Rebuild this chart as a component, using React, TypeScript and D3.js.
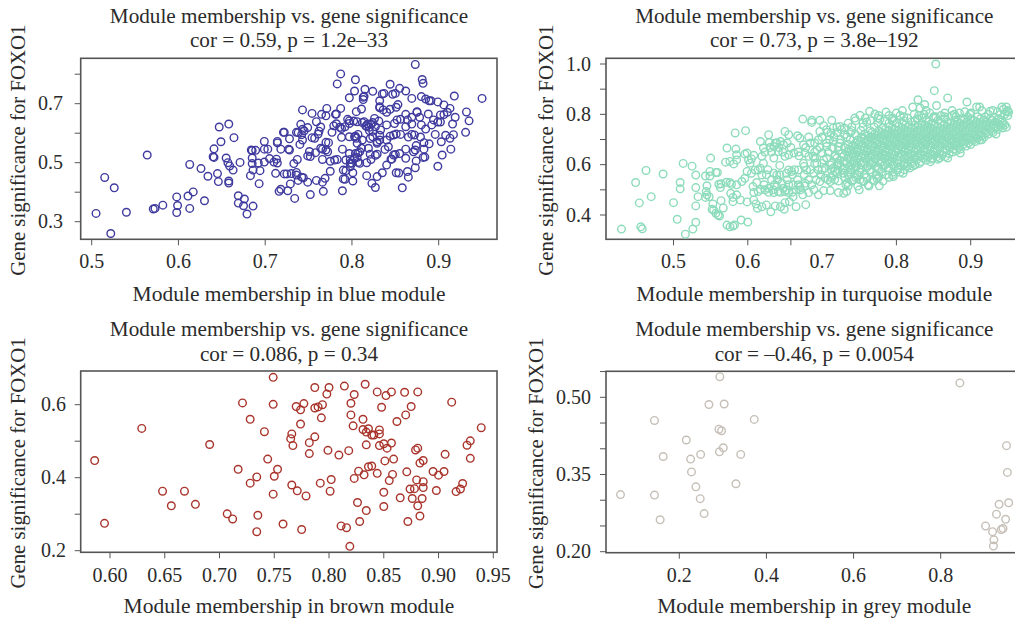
import React from "react";
import * as d3 from "d3";

type Pt = [number, number];

const bluePoints: Pt[] = [[.505,.328],[.515,.45],[.526,.415],[.522,.26],[.54,.332],[.564,.526],[.571,.343],[.573,.345],[.582,.356],[.598,.384],[.599,.355],[.598,.331],[.611,.387],[.613,.345],[.617,.401],[.613,.494],[.626,.48],[.634,.454],[.63,.371],[.641,.547],[.641,.518],[.64,.52],[.647,.621],[.658,.631],[.649,.571],[.664,.585],[.655,.516],[.657,.5],[.659,.489],[.663,.475],[.645,.463],[.646,.436],[.658,.438],[.658,.431],[.669,.388],[.669,.363],[.676,.377],[.675,.354],[.686,.353],[.679,.326],[.671,.501],[.683,.456],[.685,.516],[.684,.543],[.685,.541],[.689,.542],[.685,.497],[.692,.499],[.686,.475],[.694,.473],[.693,.429],[.699,.572],[.699,.546],[.703,.546],[.699,.502],[.705,.514],[.71,.502],[.713,.512],[.714,.499],[.712,.464],[.716,.403],[.718,.41],[.726,.405],[.729,.428],[.734,.379],[.752,.392],[.767,.403],[.714,.572],[.714,.567],[.718,.546],[.721,.603],[.722,.603],[.728,.581],[.727,.546],[.728,.543],[.733,.497],[.722,.462],[.725,.462],[.73,.463],[.736,.467],[.736,.458],[.742,.451],[.744,.449],[.738,.44],[.749,.434],[.759,.44],[.766,.434],[.769,.447],[.775,.471],[.737,.511],[.736,.603],[.738,.602],[.741,.63],[.743,.679],[.743,.613],[.745,.608],[.742,.595],[.74,.562],[.743,.577],[.749,.619],[.754,.667],[.759,.639],[.764,.621],[.762,.607],[.761,.597],[.757,.583],[.754,.585],[.751,.538],[.752,.521],[.749,.523],[.758,.534],[.764,.549],[.766,.546],[.77,.569],[.773,.568],[.77,.543],[.772,.537],[.766,.511],[.775,.505],[.78,.509],[.783,.511],[.765,.664],[.771,.684],[.77,.659],[.782,.665],[.781,.664],[.787,.684],[.779,.625],[.782,.632],[.777,.603],[.786,.62],[.788,.616],[.788,.586],[.792,.622],[.783,.767],[.787,.801],[.804,.781],[.797,.72],[.803,.743],[.815,.749],[.824,.742],[.805,.673],[.811,.682],[.813,.722],[.813,.714],[.814,.725],[.795,.647],[.797,.642],[.797,.633],[.797,.588],[.804,.59],[.803,.588],[.806,.566],[.789,.546],[.797,.531],[.793,.509],[.804,.531],[.807,.533],[.809,.537],[.803,.515],[.806,.518],[.807,.501],[.798,.498],[.8,.498],[.798,.486],[.79,.475],[.793,.473],[.79,.445],[.792,.444],[.789,.405],[.801,.438],[.801,.466],[.802,.641],[.806,.639],[.812,.636],[.814,.639],[.816,.624],[.817,.624],[.82,.62],[.822,.631],[.82,.609],[.824,.607],[.826,.65],[.831,.641],[.833,.611],[.84,.628],[.832,.71],[.832,.69],[.835,.733],[.837,.735],[.844,.766],[.847,.732],[.85,.735],[.855,.752],[.862,.743],[.869,.718],[.873,.833],[.881,.782],[.882,.769],[.88,.724],[.885,.716],[.889,.71],[.891,.71],[.899,.706],[.906,.696],[.918,.726],[.95,.718],[.932,.672],[.935,.642],[.931,.603],[.919,.654],[.916,.631],[.913,.684],[.91,.671],[.908,.593],[.917,.595],[.913,.583],[.914,.546],[.904,.526],[.899,.488],[.903,.571],[.896,.596],[.899,.638],[.902,.638],[.902,.662],[.906,.663],[.894,.645],[.892,.628],[.888,.665],[.88,.628],[.885,.614],[.878,.654],[.875,.671],[.875,.673],[.869,.654],[.869,.631],[.862,.664],[.853,.697],[.851,.688],[.849,.633],[.852,.645],[.856,.647],[.864,.645],[.862,.622],[.869,.596],[.865,.587],[.872,.594],[.879,.587],[.883,.568],[.889,.564],[.883,.546],[.874,.558],[.873,.543],[.871,.537],[.862,.546],[.856,.596],[.848,.594],[.851,.597],[.855,.531],[.85,.528],[.848,.526],[.862,.515],[.874,.506],[.882,.518],[.884,.519],[.873,.483],[.864,.47],[.865,.451],[.851,.466],[.854,.465],[.858,.415],[.845,.512],[.846,.512],[.84,.492],[.835,.466],[.829,.453],[.827,.416],[.823,.43],[.817,.456],[.817,.5],[.822,.511],[.827,.525],[.829,.529],[.821,.529],[.819,.549],[.829,.566],[.832,.577],[.84,.577],[.844,.59],[.842,.554],[.838,.545],[.821,.582],[.824,.588],[.829,.571],[.832,.686],[.836,.679],[.84,.671],[.844,.681],[.832,.593],[.827,.622],[.824,.636],[.818,.631],[.811,.549],[.812,.577],[.807,.596],[.805,.583],[.798,.511],[.809,.498]];

const turquoisePoints: Pt[] = [[.43,.344],[.449,.529],[.463,.577],[.454,.448],[.456,.353],[.458,.345],[.47,.473],[.486,.563],[.5,.449],[.505,.383],[.509,.529],[.509,.504],[.513,.605],[.516,.324],[.525,.594],[.526,.344],[.53,.559],[.53,.509],[.533,.473],[.53,.436],[.53,.371],[.55,.626],[.543,.555],[.549,.573],[.549,.555],[.557,.569],[.559,.569],[.545,.516],[.544,.493],[.545,.48],[.548,.473],[.543,.47],[.553,.444],[.552,.423],[.554,.42],[.557,.407],[.562,.396],[.56,.4],[.567,.428],[.564,.457],[.561,.522],[.564,.524],[.563,.509],[.571,.53],[.576,.529],[.578,.522],[.572,.666],[.584,.662],[.583,.726],[.597,.735],[.57,.61],[.576,.613],[.581,.603],[.585,.619],[.585,.639],[.596,.642],[.599,.646],[.601,.619],[.605,.623],[.608,.637],[.603,.606],[.572,.36],[.576,.353],[.58,.356],[.582,.36],[.591,.38],[.6,.372],[.577,.486],[.58,.47],[.585,.48],[.58,.453],[.59,.46],[.599,.452],[.585,.52],[.592,.533],[.596,.546],[.599,.573],[.605,.566],[.61,.579],[.614,.579],[.612,.529],[.607,.513],[.614,.493],[.608,.489],[.617,.502],[.623,.5],[.628,.506],[.608,.46],[.611,.444],[.613,.427],[.619,.433],[.625,.44],[.631,.413],[.637,.436],[.644,.433],[.649,.423],[.65,.449],[.656,.453],[.665,.433],[.678,.441],[.617,.692],[.628,.719],[.629,.688],[.621,.666],[.619,.633],[.621,.606],[.617,.586],[.619,.559],[.635,.672],[.639,.686],[.644,.692],[.65,.732],[.655,.719],[.648,.679],[.641,.652],[.635,.626],[.643,.597],[.635,.566],[.639,.559],[.632,.54],[.635,.489],[.641,.493],[.639,.513],[.646,.526],[.65,.493],[.655,.489],[.648,.506],[.661,.52],[.665,.5],[.661,.473],[.674,.48],[.682,.489],[.655,.579],[.659,.573],[.668,.579],[.652,.566],[.65,.633],[.655,.639],[.662,.646],[.669,.635],[.667,.715],[.67,.706],[.675,.679],[.677,.646],[.682,.633],[.682,.71],[.674,.781],[.686,.776],[.686,.768],[.697,.776],[.676,.593],[.679,.579],[.684,.686],[.682,.54],[.677,.526],[.677,.516],[.67,.513],[.713,.776],[.702,.755],[.697,.732],[.695,.699],[.706,.739],[.712,.726],[.693,.659],[.7,.646],[.688,.633],[.693,.606],[.702,.619],[.695,.579],[.689,.566],[.704,.586],[.711,.599],[.717,.633],[.706,.672],[.715,.692],[.722,.672],[.724,.752],[.726,.739],[.695,.48],[.702,.497],[.711,.497],[.697,.533],[.704,.546],[.711,.533],[.717,.54],[.722,.489],[.729,.486],[.733,.493],[.734,.529],[.732,.52],[.729,.566],[.722,.579],[.717,.573],[.738,.579],
[.853,1.0],[.851,.894],[.869,.865],[.829,.858],[.854,.835],[.838,.839],[.822,.829],[.832,.825],[.808,.815],[.764,.812],[.786,.809],[.751,.796],[.744,.785],[.771,.801],[.776,.795],[.796,.775],[.777,.516],[.774,.544],[.75,.5],[.756,.533],[.762,.52],[.796,.553],[.895,.849],[.908,.829],[.912,.829],[.926,.812],[.942,.829],[.948,.829],[.951,.809],[.948,.749],[.934,.722],[.915,.699],[.886,.646],[.869,.626],[.856,.622],[.847,.622],[.825,.599],[.809,.566],[.944,.82],[.946,.8],[.948,.81],[.95,.795],[.94,.8],[.936,.81],[.924,.8],[.878,.8],[.892,.81],[.899,.8],[.865,.79],[.853,.79],[.837,.8],[.824,.8],[.81,.79],[.794,.78],[.778,.78],[.76,.77]];

// Gene significance rows across the crowded part of the turquoise cloud: [significance, memberships]
const turquoiseRows: [number, number[]][] = [
  [.49,[.628,.644,.66]],[.5,[.634,.652,.671,.689]],[.515,[.735,.748,.763]],[.52,[.622,.636,.655,.668,.686]],
  [.535,[.722,.74,.755,.77,.782]],[.54,[.64,.653,.667,.692,.708,.742,.751,.768]],[.55,[.712,.73,.745,.76,.776,.79]],
  [.56,[.625,.643,.66,.676,.698,.715,.735,.748,.757,.773,.786,.795]],[.57,[.72,.735,.75,.765,.78,.795,.805]],
  [.58,[.627,.663,.684,.7,.712,.728,.739,.752,.764,.776,.789,.802,.811]],[.587,[.715,.73,.745,.76,.775,.79,.803,.818]],
  [.594,[.725,.737,.746,.761,.772,.783,.797,.806,.815,.822]],[.6,[.72,.74,.752,.765,.785,.795,.81,.825]],
  [.605,[.675,.69,.7,.713,.722,.733,.744,.756,.767,.778,.788,.801,.812,.821,.831]],
  [.612,[.73,.743,.756,.769,.781,.794,.807,.82,.833,.846]],
  [.618,[.724,.738,.751,.763,.776,.789,.801,.815,.827,.84]],
  [.626,[.69,.706,.72,.735,.747,.758,.771,.784,.796,.81,.823,.836,.849,.858]],
  [.632,[.729,.742,.753,.766,.779,.791,.804,.817,.83,.843,.855,.866]],
  [.638,[.718,.736,.749,.762,.774,.786,.798,.812,.825,.838,.851,.862]],
  [.644,[.727,.741,.755,.768,.781,.793,.806,.819,.832,.845,.858,.871]],
  [.65,[.623,.632,.647,.668,.69,.708,.733,.747,.76,.772,.785,.799,.811,.824,.837,.85,.864,.876]],
  [.656,[.722,.739,.752,.765,.777,.79,.803,.816,.829,.842,.855,.868,.881]],
  [.662,[.736,.748,.761,.774,.787,.8,.812,.826,.838,.852,.865,.877,.886]],
  [.668,[.63,.642,.658,.678,.697,.714,.73,.744,.757,.77,.782,.795,.808,.82,.833,.846,.859,.872,.884]],
  [.674,[.741,.753,.766,.779,.791,.804,.817,.83,.843,.856,.869,.881,.894]],
  [.68,[.735,.749,.762,.775,.788,.8,.813,.826,.839,.852,.865,.878,.89,.9]],
  [.686,[.637,.653,.69,.706,.724,.745,.758,.771,.784,.797,.81,.822,.835,.848,.861,.874,.887,.897]],
  [.692,[.752,.765,.778,.791,.804,.817,.829,.842,.855,.868,.881,.893,.906]],
  [.698,[.748,.761,.774,.787,.8,.813,.826,.839,.852,.864,.877,.89,.903,.912]],
  [.7,[.71,.725,.738]],
  [.704,[.757,.77,.783,.796,.809,.822,.835,.848,.861,.874,.887,.899,.909]],
  [.71,[.7,.716,.733,.753,.766,.779,.792,.805,.818,.831,.844,.857,.87,.883,.896,.908,.918]],
  [.716,[.762,.775,.788,.801,.814,.827,.84,.853,.866,.879,.892,.905,.915]],
  [.72,[.73,.745,.757]],
  [.722,[.771,.784,.797,.81,.823,.836,.849,.862,.875,.888,.901,.913,.924]],
  [.728,[.707,.72,.738,.767,.78,.793,.806,.819,.832,.845,.858,.871,.884,.897,.91,.921,.93]],
  [.734,[.776,.789,.802,.815,.828,.841,.854,.867,.88,.893,.906,.918,.928]],
  [.735,[.74,.752,.765]],
  [.74,[.785,.798,.811,.824,.837,.85,.863,.876,.889,.902,.915,.926,.936]],
  [.746,[.715,.73,.781,.794,.807,.82,.833,.846,.859,.872,.885,.898,.911,.923,.933,.943]],
  [.75,[.72,.74,.755,.77,.79]],
  [.752,[.803,.816,.829,.842,.855,.868,.881,.894,.907,.92,.931,.94]],
  [.758,[.812,.825,.838,.851,.864,.877,.89,.903,.916,.928,.938,.946]],
  [.764,[.808,.834,.847,.86,.873,.886,.899,.912,.925,.936,.944]],
  [.765,[.735,.755,.775,.79,.8]],
  [.77,[.82,.843,.869,.882,.895,.908,.921,.933,.942]],
  [.775,[.745,.765,.785,.81,.825]],
  [.776,[.84,.856,.878,.891,.904,.917,.929,.94]],
  [.782,[.828,.865,.887,.9,.913,.926,.937]],
  [.785,[.758,.775,.795,.815,.835,.85]],
  [.79,[.85,.88,.896,.909,.92]],
  [.795,[.79,.805,.83,.86,.875]],
  [.805,[.8,.845,.865,.885,.9]],
  [.815,[.84,.875,.915,.93,.95]],
];
const turquoiseAll: Pt[] = [
  ...turquoisePoints,
  ...turquoiseRows.flatMap(([gs, mm]) => mm.map((m): Pt => [m, gs])),
];

const brownPoints: Pt[] = [[.586,.447],[.595,.275],[.629,.535],[.648,.363],[.656,.323],[.668,.363],[.678,.327],[.691,.491],[.707,.301],[.712,.287],[.717,.423],[.721,.605],[.728,.56],[.728,.385],[.734,.402],[.735,.297],[.734,.252],[.741,.526],[.744,.451],[.749,.601],[.749,.675],[.749,.355],[.75,.404],[.753,.423],[.758,.273],[.766,.52],[.765,.507],[.767,.488],[.766,.38],[.771,.364],[.77,.595],[.774,.586],[.777,.603],[.774,.547],[.779,.35],[.775,.258],[.782,.466],[.782,.496],[.787,.647],[.787,.512],[.787,.591],[.79,.594],[.794,.6],[.793,.564],[.798,.629],[.8,.647],[.799,.475],[.792,.385],[.802,.395],[.801,.363],[.809,.462],[.814,.651],[.811,.268],[.816,.263],[.819,.212],[.818,.474],[.82,.604],[.82,.572],[.822,.542],[.823,.628],[.823,.398],[.827,.418],[.826,.332],[.828,.28],[.832,.408],[.831,.56],[.831,.532],[.833,.656],[.834,.525],[.836,.534],[.834,.49],[.834,.31],[.836,.43],[.839,.432],[.839,.517],[.841,.517],[.844,.635],[.846,.52],[.846,.531],[.844,.412],[.846,.488],[.848,.593],[.85,.493],[.853,.481],[.851,.446],[.85,.36],[.85,.321],[.852,.625],[.855,.392],[.857,.635],[.857,.495],[.858,.409],[.859,.451],[.862,.554],[.865,.345],[.869,.634],[.87,.572],[.871,.416],[.872,.28],[.875,.595],[.874,.369],[.876,.343],[.878,.37],[.879,.476],[.881,.481],[.88,.394],[.881,.635],[.881,.323],[.883,.295],[.883,.44],[.886,.447],[.885,.343],[.886,.389],[.886,.373],[.895,.417],[.898,.365],[.9,.407],[.905,.417],[.906,.464],[.912,.607],[.916,.362],[.92,.369],[.922,.384],[.926,.489],[.929,.501],[.929,.453],[.939,.537]];

const greyPoints: Pt[] = [[.065,.311],[.143,.455],[.143,.31],[.156,.262],[.163,.385],[.216,.417],[.226,.38],[.228,.355],[.238,.326],[.248,.303],[.257,.274],[.249,.389],[.268,.486],[.303,.487],[.293,.54],[.291,.438],[.297,.435],[.301,.402],[.292,.394],[.341,.389],[.33,.332],[.372,.457],[.844,.528],[.951,.406],[.953,.354],[.956,.295],[.934,.292],[.928,.273],[.949,.263],[.903,.25],[.919,.239],[.939,.243],[.943,.245],[.922,.223],[.921,.211]];

const blueXTicks = [0.5, 0.6, 0.7, 0.8, 0.9];
const blueYTicks = [0.3, 0.4, 0.5, 0.6, 0.7, 0.8];
const blueYLabels = ["0.3", "0.5", "0.7"];
// The published figure has the tick for 0.7 displaced to the left of its label.
const turquoiseXTicks = [0.5, 0.6, 0.658, 0.8, 0.9];
const turquoiseXLabelValues = [0.5, 0.6, 0.7, 0.8, 0.9];
const turquoiseYTicks = [0.4, 0.5, 0.6, 0.7, 0.8, 0.9, 1.0];
const turquoiseYLabels = ["0.4", "0.6", "0.8", "1.0"];
const brownXTicks = [0.6, 0.65, 0.7, 0.75, 0.8, 0.85, 0.9, 0.95];
const brownYTicks = [0.2, 0.3, 0.4, 0.5, 0.6];
const brownYLabels = ["0.2", "0.4", "0.6"];
const greyXTicks = [0.2, 0.4, 0.6, 0.8];
const greyYTicks = [0.2, 0.25, 0.3, 0.35, 0.4, 0.45, 0.5, 0.55];
const greyYLabels = ["0.20", "0.35", "0.50"];

const FONT = '"Liberation Serif", serif';
const INK = "#2b2b2b";
const FRAME = "#555555";

type PanelProps = {
  points: Pt[];
  color: string;
  title: string;
  xTitle: string;
  box: { l: number; r: number; t: number; b: number };
  xAnchor: { d: [number, number]; r: [number, number] };
  yAnchor: { d: [number, number]; r: [number, number] };
  xTicks: number[];
  xLabelValues: number[];
  xFmt: string;
  yTicks: number[];
  yLabels: string[];
  xLabelY: number;
  xTitleY: number;
  yLabelX: number;
  yTitleX: number;
  cx: number;
  titleY: [number, number];
};

function Panel(p: PanelProps) {
  const x = d3.scaleLinear().domain(p.xAnchor.d).range(p.xAnchor.r);
  const y = d3.scaleLinear().domain(p.yAnchor.d).range(p.yAnchor.r);
  const fmt = d3.format(p.xFmt);
  const midY = (p.box.t + p.box.b) / 2 + 1.3;
  return (
    <g fontFamily={FONT} fill={INK}>
      <text x={p.cx} y={p.titleY[0]} textAnchor="middle" fontSize={21.2}>Module membership vs. gene significance</text>
      <text x={p.cx} y={p.titleY[1]} textAnchor="middle" fontSize={21.2}>{p.title}</text>
      <rect x={p.box.l} y={p.box.t} width={p.box.r - p.box.l} height={p.box.b - p.box.t} fill="none" stroke={FRAME} strokeWidth={1.6} />
      {p.xTicks.map((t) => (
        <line key={t} x1={x(t)} x2={x(t)} y1={p.box.b} y2={p.box.b + 6} stroke={FRAME} strokeWidth={1} />
      ))}
      {p.yTicks.map((t) => (
        <line key={t} x1={p.box.l - 6} x2={p.box.l} y1={y(t)} y2={y(t)} stroke={FRAME} strokeWidth={1} />
      ))}
      {p.xLabelValues.map((t) => (
        <text key={t} x={x(t)} y={p.xLabelY} textAnchor="middle" fontSize={20}>{fmt(t)}</text>
      ))}
      {p.yLabels.map((t) => (
        <text key={t} x={p.yLabelX} y={y(+t) + 6.5} textAnchor="end" fontSize={20}>{t}</text>
      ))}
      <text x={p.cx} y={p.xTitleY} textAnchor="middle" fontSize={21.5}>{p.xTitle}</text>
      <text transform={`translate(${p.yTitleX},${midY}) rotate(-90)`} textAnchor="middle" fontSize={20.8}>Gene significance for FOXO1</text>
      {p.points.map((d, i) => (
        <circle key={i} cx={x(d[0])} cy={y(d[1])} r={3.8} fill="none" stroke={p.color} strokeWidth={1.4} />
      ))}
    </g>
  );
}

export default function App() {
  return (
    <svg width={1015} height={625} style={{ position: "absolute", left: 0, top: 0, background: "#fff" }}>
      <Panel points={bluePoints} color="#3f3a9e" title="cor = 0.59, p = 1.2e–33" xTitle="Module membership in blue module"
        box={{ l: 80.7, r: 497, t: 58.3, b: 239.3 }}
        xAnchor={{ d: [0.5, 0.9], r: [91.7, 438.7] }} yAnchor={{ d: [0.3, 0.7], r: [221.7, 103.7] }}
        xTicks={blueXTicks} xLabelValues={blueXTicks} xFmt=".1f" yTicks={blueYTicks} yLabels={blueYLabels}
        xLabelY={268} xTitleY={301} yLabelX={63} yTitleX={25} cx={289} titleY={[23, 47]} />
      <Panel points={turquoiseAll} color="#8ddcbb" title="cor = 0.73, p = 3.8e–192" xTitle="Module membership in turquoise module"
        box={{ l: 606, r: 1020, t: 58.3, b: 239.3 }}
        xAnchor={{ d: [0.5, 0.9], r: [673.5, 970.7] }} yAnchor={{ d: [0.4, 1.0], r: [215, 64] }}
        xTicks={turquoiseXTicks} xLabelValues={turquoiseXLabelValues} xFmt=".1f" yTicks={turquoiseYTicks} yLabels={turquoiseYLabels}
        xLabelY={268} xTitleY={301} yLabelX={591} yTitleX={553} cx={814.3} titleY={[23, 47]} />
      <Panel points={brownPoints} color="#a9342b" title="cor = 0.086, p = 0.34" xTitle="Module membership in brown module"
        box={{ l: 80.7, r: 497, t: 371, b: 552.3 }}
        xAnchor={{ d: [0.6, 0.95], r: [110, 493.3] }} yAnchor={{ d: [0.2, 0.6], r: [550.7, 404.7] }}
        xTicks={brownXTicks} xLabelValues={brownXTicks} xFmt=".2f" yTicks={brownYTicks} yLabels={brownYLabels}
        xLabelY={581.7} xTitleY={613} yLabelX={66} yTitleX={25} cx={289} titleY={[336, 360.7]} />
      <Panel points={greyPoints} color="#c5bfb7" title="cor = –0.46, p = 0.0054" xTitle="Module membership in grey module"
        box={{ l: 606, r: 1020, t: 371.3, b: 552.7 }}
        xAnchor={{ d: [0.2, 0.8], r: [679.3, 940.7] }} yAnchor={{ d: [0.2, 0.5], r: [551.7, 397.3] }}
        xTicks={greyXTicks} xLabelValues={greyXTicks} xFmt=".1f" yTicks={greyYTicks} yLabels={greyYLabels}
        xLabelY={581.7} xTitleY={613} yLabelX={591} yTitleX={543} cx={814.3} titleY={[336, 360.7]} />
    </svg>
  );
}
